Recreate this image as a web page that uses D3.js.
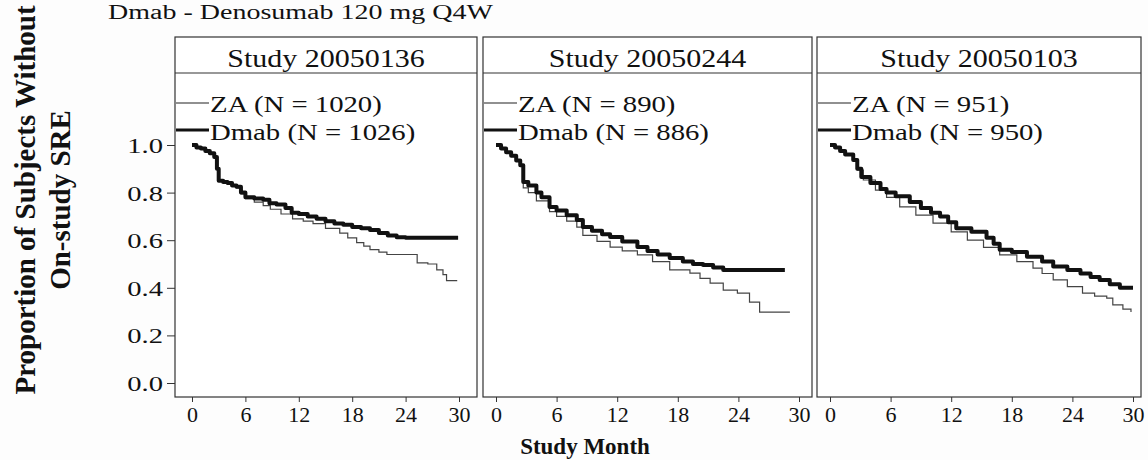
<!DOCTYPE html>
<html>
<head>
<meta charset="utf-8">
<script src="https://cdn.jsdelivr.net/npm/d3@7"></script>
<style>
  body { margin: 0; background: #fff; }
  svg { display: block; }
  text { font-family: "Liberation Serif", "Times New Roman", serif; fill: #111; }
</style>
</head>
<body>
<svg id="chart" width="1148" height="460"></svg>
<script>
// study panels
var studies = ["Study 20050136", "Study 20050244", "Study 20050103"];
var nZA = [1020, 890, 951];
var nDmab = [1026, 886, 950];
var xTicks = [0, 6, 12, 18, 24, 30];
var yTicks = [0.0, 0.2, 0.4, 0.6, 0.8, 1.0];

// KM curves: [month, proportion without SRE]
var za136 = [[0,1.0],[0.5,0.99],[1,0.985],[1.5,0.975],[2,0.965],[2.5,0.95],[2.8,0.9],[3,0.85],[3.5,0.845],[4,0.835],[4.5,0.83],[5,0.82],[5.5,0.795],[6,0.775],[7,0.76],[8,0.745],[8.8,0.73],[10,0.71],[11.3,0.69],[12.5,0.68],[13.6,0.67],[15,0.65],[16.6,0.63],[17.5,0.61],[18.5,0.59],[19.3,0.575],[20,0.56],[21,0.55],[21.9,0.54],[25.3,0.505],[26.5,0.5],[27.5,0.475],[28.2,0.455],[28.6,0.43],[29.8,0.43]];
var dmab136 = [[0,1.0],[0.5,0.99],[1,0.985],[1.5,0.975],[2,0.965],[2.5,0.95],[2.8,0.9],[3,0.85],[3.5,0.845],[4,0.84],[4.5,0.83],[5,0.825],[5.5,0.8],[6,0.78],[7,0.775],[8,0.77],[8.7,0.755],[9.5,0.75],[10.5,0.735],[11.2,0.715],[12,0.71],[13,0.7],[14,0.69],[15,0.68],[16,0.67],[17,0.665],[18,0.655],[19,0.65],[20,0.643],[21,0.63],[22,0.62],[23,0.612],[24,0.61],[29.9,0.61]];

var za244 = [[0,1.0],[0.5,0.985],[1,0.97],[1.5,0.955],[2,0.935],[2.4,0.915],[2.7,0.82],[3.2,0.8],[4,0.765],[5.3,0.72],[6,0.7],[7,0.68],[8,0.655],[8.6,0.62],[10,0.595],[11.3,0.571],[12.5,0.555],[14,0.538],[15.5,0.51],[17.2,0.475],[19.2,0.462],[20.2,0.44],[21.2,0.42],[22.5,0.39],[23.9,0.378],[25.1,0.34],[26.1,0.298],[29.1,0.298]];
var dmab244 = [[0,1.0],[0.5,0.985],[1,0.97],[1.5,0.955],[2,0.935],[2.4,0.915],[2.7,0.845],[3.2,0.83],[4,0.8],[4.5,0.78],[5.3,0.74],[6,0.725],[7,0.705],[8,0.685],[8.6,0.655],[9.5,0.64],[10.5,0.625],[11.3,0.613],[12.5,0.595],[14,0.571],[15,0.555],[16,0.54],[17.2,0.525],[18.5,0.51],[19.5,0.5],[20.5,0.496],[21.5,0.485],[22.5,0.475],[28.6,0.475]];

var za103 = [[0,1.0],[0.5,0.99],[1,0.975],[1.5,0.96],[2.3,0.937],[2.7,0.895],[3.3,0.853],[4.5,0.81],[5.6,0.78],[6.9,0.74],[8.5,0.705],[10.2,0.672],[12,0.635],[13.6,0.6],[15.2,0.57],[16.8,0.538],[18.5,0.51],[20.1,0.483],[21,0.46],[22.1,0.433],[23.5,0.405],[25,0.378],[26.2,0.365],[27.4,0.357],[28,0.328],[29,0.31],[29.8,0.298]];
var dmab103 = [[0,1.0],[0.5,0.99],[1,0.975],[1.5,0.96],[2.3,0.937],[2.7,0.9],[3.1,0.866],[4,0.84],[5,0.815],[5.6,0.8],[6.5,0.785],[7.9,0.76],[9,0.735],[10,0.715],[10.9,0.7],[11.7,0.675],[12.5,0.65],[14,0.635],[15.5,0.61],[16.2,0.585],[16.8,0.56],[18,0.55],[19.5,0.53],[21,0.51],[22.1,0.49],[23.5,0.475],[24.8,0.46],[25.8,0.445],[26.7,0.433],[27.7,0.415],[28.7,0.4],[30,0.4]];

var zaCurves = [za136, za244, za103];
var dmabCurves = [dmab136, dmab244, dmab103];

// layout (pixels)
var panelBox = [
  {left: 175, right: 477, x0: 192, x30: 459},
  {left: 483, right: 812, x0: 496, x30: 799},
  {left: 817, right: 1141, x0: 830, x30: 1133}
];
var frameTop = 37, headBottom = 73, frameBottom = 397;

var svg = d3.select("#chart");
svg.append("rect").attr("width", 1148).attr("height", 460).attr("fill", "#fdfdfd");

var y = d3.scaleLinear().domain([0, 1]).range([383, 145]);

// stretched serif text, the scan is wider than plain Times
function label(g, x, yy, txt, size, sx, anchor, weight) {
  return g.append("text")
    .attr("transform", "translate(" + x + "," + yy + ") scale(" + sx + ",1)")
    .attr("text-anchor", anchor || "start")
    .style("font-size", size + "px")
    .style("font-weight", weight || "normal")
    .text(txt);
}

// header line at the top (cut off in the scan)
label(svg, 108, 19, "Dmab - Denosumab 120 mg Q4W", 20, 1.4, "start");

var line = d3.line()
  .x(function(d) { return d[0]; })
  .y(function(d) { return d[1]; })
  .curve(d3.curveStepAfter);

studies.forEach(function(name, i) {
  var b = panelBox[i];
  var x = d3.scaleLinear().domain([0, 30]).range([b.x0, b.x30]);
  var g = svg.append("g");

  // frame and header strip
  g.append("rect")
    .attr("x", b.left).attr("y", frameTop)
    .attr("width", b.right - b.left).attr("height", frameBottom - frameTop)
    .attr("fill", "#fff").attr("stroke", "#333").attr("stroke-width", 1.2);
  g.append("line")
    .attr("x1", b.left).attr("x2", b.right)
    .attr("y1", headBottom).attr("y2", headBottom)
    .attr("stroke", "#333").attr("stroke-width", 1.2);
  label(g, (b.left + b.right) / 2, 67, name, 25, 1.2, "middle");

  // legend
  g.append("line").attr("x1", b.left + 1).attr("x2", b.left + 34)
    .attr("y1", 103).attr("y2", 103).attr("stroke", "#222").attr("stroke-width", 1.2);
  label(g, b.left + 35, 112, "ZA (N = " + nZA[i] + ")", 23, 1.25, "start");
  g.append("line").attr("x1", b.left + 1).attr("x2", b.left + 34)
    .attr("y1", 130).attr("y2", 130).attr("stroke", "#111").attr("stroke-width", 3);
  label(g, b.left + 35, 140, "Dmab (N = " + nDmab[i] + ")", 23, 1.25, "start");

  // curves
  g.append("path")
    .attr("d", line(zaCurves[i].map(function(d) { return [x(d[0]), y(d[1])]; })))
    .attr("fill", "none").attr("stroke", "#444").attr("stroke-width", 1.2);
  g.append("path")
    .attr("d", line(dmabCurves[i].map(function(d) { return [x(d[0]), y(d[1])]; })))
    .attr("fill", "none").attr("stroke", "#111").attr("stroke-width", 4)
    .attr("stroke-linejoin", "round");

  // x axis
  var xa = g.append("g")
    .attr("transform", "translate(0," + frameBottom + ")")
    .call(d3.axisBottom(x).tickValues(xTicks).tickSize(5).tickPadding(4));
  xa.select(".domain").remove();
  xa.selectAll("line").attr("stroke", "#333");
  xa.selectAll("text").style("font-size", "22px").attr("dy", "0.71em").attr("fill", "#111");
});

// y axis on first panel only
var ya = svg.append("g")
  .attr("transform", "translate(" + panelBox[0].left + ",0)")
  .call(d3.axisLeft(y).tickValues(yTicks).tickSize(8).tickFormat(d3.format(".1f")));
ya.select(".domain").remove();
ya.selectAll("line").attr("stroke", "#333");
ya.selectAll(".tick text").remove();
yTicks.forEach(function(v) {
  label(svg, 163, y(v) + 8, d3.format(".1f")(v), 22, 1.3, "end");
});

// axis titles
var yl = svg.append("g").attr("transform", "rotate(-90)");
yl.append("text").attr("x", -200).attr("y", 35).attr("text-anchor", "middle")
  .style("font-size", "29px").style("font-weight", "bold")
  .text("Proportion of Subjects Without");
yl.append("text").attr("x", -200).attr("y", 70).attr("text-anchor", "middle")
  .style("font-size", "29px").style("font-weight", "bold")
  .text("On-study SRE");

svg.append("text").attr("x", 585).attr("y", 454).attr("text-anchor", "middle")
  .style("font-size", "23px").style("font-weight", "bold")
  .text("Study Month");
</script>
</body>
</html>
